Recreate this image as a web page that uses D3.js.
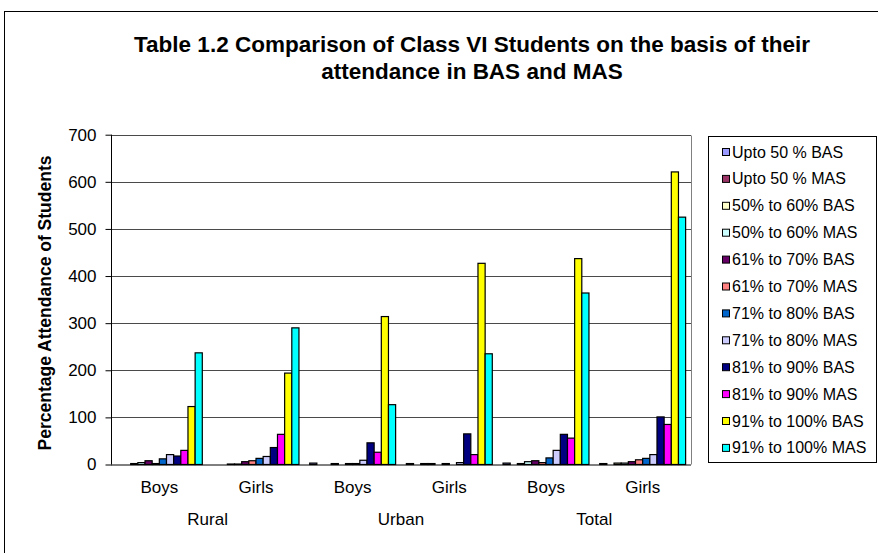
<!DOCTYPE html>
<html>
<head>
<meta charset="utf-8">
<script src="https://cdn.jsdelivr.net/npm/d3@7"></script>
<style>
  body { margin: 0; background: #fff; }
  text { font-family: "Liberation Sans", Arial, sans-serif; fill: #000; }
</style>
</head>
<body>
<div id="chart"></div>
<script>
// categories: inner (Boys/Girls) within outer (Rural/Urban/Total)
var categories = ["Rural Boys", "Rural Girls", "Urban Boys", "Urban Girls", "Total Boys", "Total Girls"];
var innerLabels = ["Boys", "Girls", "Boys", "Girls", "Boys", "Girls"];
var outerLabels = ["Rural", "Urban", "Total"];

var seriesNames = [
    "Upto 50 % BAS", "Upto 50 % MAS",
    "50% to 60% BAS", "50% to 60% MAS",
    "61% to 70% BAS", "61% to 70% MAS",
    "71% to 80% BAS", "71% to 80% MAS",
    "81% to 90% BAS", "81% to 90% MAS",
    "91% to 100% BAS", "91% to 100% MAS"
];
var seriesColors = ["#9999FF", "#993366", "#FFFFCC", "#CCFFFF", "#660066", "#FF8080",
                    "#0066CC", "#CCCCFF", "#000080", "#FF00FF", "#FFFF00", "#00FFFF"];

// values per category, in series order
var ruralBoys  = [0, 0, 2, 4, 8, 2, 12, 21, 18, 30, 123, 237];
var ruralGirls = [0, 0, 1, 1, 6, 8, 13, 17, 36, 64, 194, 290];
var urbanBoys  = [3, 0, 0, 2, 0, 2, 2, 9, 46, 26, 314, 127];
var urbanGirls = [2, 0, 2, 2, 0, 2, 0, 4, 65, 21, 427, 235];
var totalBoys  = [3, 0, 2, 6, 8, 4, 14, 30, 64, 56, 437, 364];
var totalGirls = [2, 0, 3, 3, 6, 10, 13, 21, 101, 85, 621, 525];

var yTicks = [0, 100, 200, 300, 400, 500, 600, 700];

var rows = [ruralBoys, ruralGirls, urbanBoys, urbanGirls, totalBoys, totalGirls];

var W = 878, H = 553;
var plot = {left: 111, right: 691, top: 134.7, bottom: 464.5};

var svg = d3.select("#chart").append("svg")
    .attr("width", W)
    .attr("height", H);

svg.append("rect").attr("width", W).attr("height", H).attr("fill", "#fff");

// outer chart border
svg.append("rect")
    .attr("x", 4.5).attr("y", 11.5)
    .attr("width", W + 10).attr("height", H + 10)
    .attr("fill", "none").attr("stroke", "#000");

// title
var title = svg.append("text")
    .attr("text-anchor", "middle")
    .style("font-weight", "bold")
    .style("font-size", "22.5px");
title.append("tspan").attr("x", 472).attr("y", 52)
    .text("Table 1.2 Comparison of Class VI Students on the basis of their");
title.append("tspan").attr("x", 472).attr("y", 79)
    .text("attendance in BAS and MAS");

var x0 = d3.scaleBand()
    .domain(categories)
    .range([plot.left, plot.right])
    .padding(0);

var gap = x0.bandwidth() * 1.5 / 13.5;
var x1 = d3.scaleBand()
    .domain(seriesNames)
    .range([gap / 2, x0.bandwidth() - gap / 2])
    .padding(0);

var y = d3.scaleLinear()
    .domain([0, 700])
    .range([plot.bottom, plot.top]);

// gridlines
svg.append("g")
    .selectAll("line")
    .data(yTicks.slice(1))
    .join("line")
    .attr("x1", plot.left).attr("x2", plot.right)
    .attr("y1", function (d) { return Math.round(y(d)) + 0.5; })
    .attr("y2", function (d) { return Math.round(y(d)) + 0.5; })
    .attr("stroke", "#4a4a4a");

// plot right border
svg.append("line")
    .attr("x1", plot.right + 0.5).attr("x2", plot.right + 0.5)
    .attr("y1", Math.round(plot.top) + 0.5).attr("y2", plot.bottom)
    .attr("stroke", "#808080");

// bars
var groups = svg.append("g")
    .selectAll("g")
    .data(rows)
    .join("g")
    .attr("transform", function (d, i) { return "translate(" + x0(categories[i]) + ",0)"; });

groups.selectAll("rect")
    .data(function (d) { return d.map(function (v, j) { return {v: v, s: seriesNames[j], c: seriesColors[j]}; }); })
    .join("rect")
    .attr("x", function (d) { return x1(d.s); })
    .attr("width", x1.bandwidth())
    .attr("y", function (d) { return y(d.v); })
    .attr("height", function (d) { return y(0) - y(d.v); })
    .attr("fill", function (d) { return d.c; })
    .attr("stroke", function (d) { return d.v > 0 ? "#000" : "none"; })
    .attr("stroke-width", 1.2);

// y axis
var yAxis = d3.axisLeft(y).tickValues(yTicks).tickSize(6).tickPadding(10);
var gy = svg.append("g")
    .attr("transform", "translate(" + (plot.left + 0.5) + ",0)")
    .call(yAxis);
gy.select(".domain").attr("d", "M0," + plot.top + "V" + plot.bottom);
gy.selectAll(".tick text")
    .attr("x", -15)
    .style("font-size", "17px");

// x axis baseline
svg.append("line")
    .attr("x1", plot.left).attr("x2", plot.right)
    .attr("y1", plot.bottom + 0.5).attr("y2", plot.bottom + 0.5)
    .attr("stroke", "#000");

// x labels
svg.append("g").selectAll("text")
    .data(categories)
    .join("text")
    .attr("x", function (d) { return x0(d) + x0.bandwidth() / 2; })
    .attr("y", 493)
    .attr("text-anchor", "middle")
    .style("font-size", "17px")
    .text(function (d, i) { return innerLabels[i]; });

svg.append("g").selectAll("text")
    .data(outerLabels)
    .join("text")
    .attr("x", function (d, i) { return x0(categories[i * 2]) + x0.bandwidth(); })
    .attr("y", 525)
    .attr("text-anchor", "middle")
    .style("font-size", "17px")
    .text(function (d) { return d; });

// y axis title
svg.append("text")
    .attr("transform", "translate(51,303) rotate(-90)")
    .attr("text-anchor", "middle")
    .style("font-weight", "bold")
    .style("font-size", "17.5px")
    .text("Percentage Attendance of Students");

// legend
var legend = svg.append("g");
legend.append("rect")
    .attr("x", 708.5).attr("y", 136.5)
    .attr("width", 168).attr("height", 326)
    .attr("fill", "#fff").attr("stroke", "#000");

var items = legend.selectAll("g.item")
    .data(seriesNames)
    .join("g")
    .attr("class", "item")
    .attr("transform", function (d, i) { return "translate(722," + (152 + i * 26.9) + ")"; });

items.append("rect")
    .attr("x", 0.5).attr("y", -3.5)
    .attr("width", 7).attr("height", 7)
    .attr("fill", function (d, i) { return seriesColors[i]; })
    .attr("stroke", "#000");

items.append("text")
    .attr("x", 10)
    .attr("y", 5.5)
    .style("font-size", "16px")
    .text(function (d) { return d; });
</script>
</body>
</html>
